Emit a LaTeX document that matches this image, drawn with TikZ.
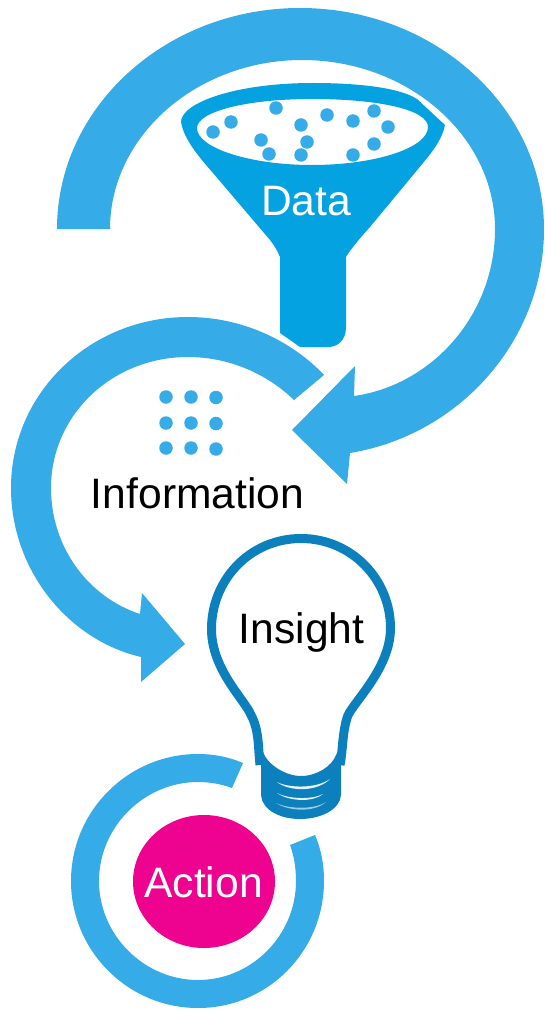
\documentclass[tikz,border=0pt]{standalone}
\usepackage{fontspec}
\setmainfont{Liberation Sans}
\definecolor{arcblue}{HTML}{35ABE8}
\definecolor{funnelblue}{HTML}{04A2E0}
\definecolor{bulbblue}{HTML}{0C80BD}
\definecolor{actionpink}{HTML}{EE0290}
\tikzset{
  arcshape/.style={fill=arcblue,draw=none},
  dot/.style={circle,fill=arcblue,draw=none,minimum size=13.5pt,inner sep=0pt},
  lab/.style={font=\fontsize{42.6}{50}\selectfont,inner sep=0pt,anchor=base},
  glint/.style={fill=white,draw=none},
}
\begin{document}
\begin{tikzpicture}[x=1pt,y=-1pt]
\useasboundingbox (0,0) rectangle (544,1011);
% big arc
\fill[arcshape] (57,229) .. controls (57,107) and (166,8) .. (300,8) .. controls (434,8) and (544,107) .. (544,229) .. controls (544,340) and (460,435) .. (350,453) -- (347,484) -- (292,430) -- (355,366) -- (354,396) .. controls (432,385) and (495,315) .. (495,229) .. controls (495,136) and (408,60) .. (302,60) .. controls (197,60) and (110,136) .. (110,229) -- cycle;
% second arc
\fill[arcshape] (324,375) .. controls (290,339) and (240,317) .. (188,317) .. controls (90,317) and (11,393) .. (11,488) .. controls (11,570) and (68,640) .. (141,657) -- (141,682) -- (185,644) -- (142,593) -- (140,614) .. controls (88,597) and (51,547) .. (51,488) .. controls (51,415) and (112,357) .. (188,357) .. controls (228,357) and (266,373) .. (294,400) -- cycle;
% third arc
\fill[arcshape] (243,763) .. controls (229,757) and (214,754) .. (198,754) .. controls (128,754) and (71,811) .. (71,881) .. controls (71,951) and (128,1008) .. (198,1008) .. controls (268,1008) and (324,951) .. (324,881) .. controls (324,864) and (321,849) .. (315,835) -- (290,845) .. controls (294,856) and (296,868) .. (296,881) .. controls (296,935) and (252,980) .. (198,980) .. controls (144,980) and (99,935) .. (99,881) .. controls (99,827) and (144,782) .. (198,782) .. controls (210,782) and (221,784) .. (232,788) -- cycle;
% funnel
\fill[funnelblue,even odd rule] (181,122) .. controls (181,103) and (235,83) .. (313,83) .. controls (360,83) and (400,88) .. (417,99) -- (445,125) .. controls (442,140) and (432,152) .. (423,163) -- (370,227) .. controls (360,238) and (350,250) .. (346,257) -- (346,327) .. controls (346,340) and (338,347) .. (328,347) -- (300,347) -- (280,333) -- (280,257) .. controls (277,250) and (274,245) .. (270,240) -- (213,173) .. controls (200,158) and (184,140) .. (181,122) -- cycle
(197,128) .. controls (197,112) and (245,99) .. (312,99) .. controls (380,99) and (428,110) .. (428,127) .. controls (428,148) and (375,165) .. (312,165) .. controls (250,165) and (197,148) .. (197,128) -- cycle;
\foreach \n/\x/\y in {a/213/132,b/231/122,c/276/108,d/261/140,e/269/154,f/301/125,g/307/142,h/301/155,i/327/115,j/353/121,k/353/155,l/374/111,m/388/127,n/374/144}
  \node[dot] (p\n) at (\x,\y) {};
\node[lab,text=white] (data) at (306,215) {Data};
% information dots
\foreach \n/\x/\y in {a/166/397,b/191/397,c/216/397.5,d/166/423,e/191/423,f/216/423.5,g/166/448,h/191/448,i/216/449}
  \node[dot] (q\n) at (\x,\y) {};
\node[lab,text=black] (info) at (197.5,508) {Information};
% bulb
\draw[bulbblue,line width=9pt] (260,765) .. controls (258,745) and (259,730) .. (251,715) .. controls (245,700) and (212,670) .. (211.5,630) .. controls (211,580) and (250,538.5) .. (301,538.5) .. controls (352,538.5) and (390.5,580) .. (390.5,628) .. controls (390.5,670) and (350,705) .. (347,718) .. controls (342,735) and (343,750) .. (340,765);
\fill[bulbblue] (261,745) -- (263,752) .. controls (267,764) and (285,776) .. (301,776) .. controls (317,776) and (332,766) .. (336,755) -- (341,745) -- (341,795) .. controls (340,810) and (320,819) .. (300,819) .. controls (280,819) and (262,810) .. (261,795) -- cycle;
\fill[glint,opacity=.9] (277,782) .. controls (288,791) and (316,793) .. (330,779) .. controls (316,789) and (288,788) .. (277,782) -- cycle;
\fill[glint,opacity=.9] (277,793) .. controls (288,801) and (312,803) .. (323,794) .. controls (312,800) and (288,799) .. (277,793) -- cycle;
\fill[glint,opacity=.6] (276,803) .. controls (288,811) and (314,813) .. (326,802) .. controls (314,810) and (288,809) .. (276,803) -- cycle;
\node[lab,text=black] (insight) at (301.5,643) {Insight};
% action
\fill[actionpink] (204,881.5) ellipse [x radius=71, y radius=66.5];
\node[lab,text=white] (action) at (203.5,897) {Action};
\end{tikzpicture}
\end{document}
